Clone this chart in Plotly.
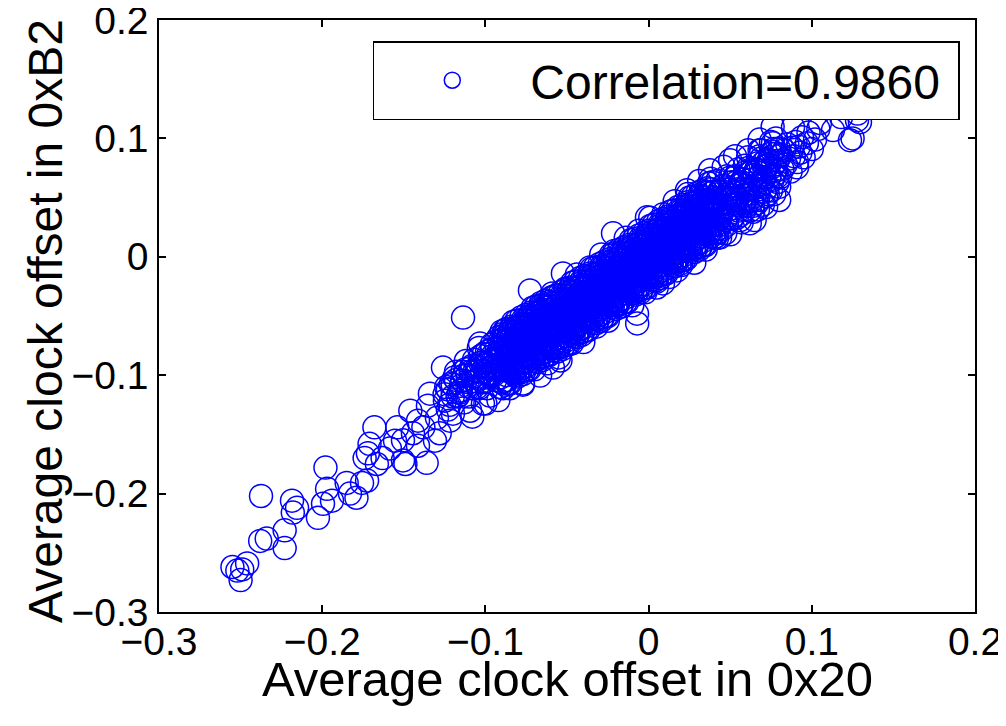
import numpy as np
import plotly.graph_objects as go

# ---- data (values in units of 0.001) ----
# lower-left tail of the cloud
tail_x = [-252, -250, -246, -249, -255, -237.5, -234, -238, -223, -223, -218.5, -215.4, -218,
          -202.6, -199.5, -198, -197, -194, -185, -183, -179, -175.6, -172.5, -174, -171, -172,
          -168, -166.5, -163, -158.5, -154, -150.5, -150.5, -146, -144.4, -136, -134, -138, -128,
          -126, -129.7, -119.9, -101.5, -149]
tail_y = [-265, -273, -259, -264, -262, -202, -238, -240, -246, -231, -206, -212, -216,
          -220.5, -208.6, -178, -196, -206, -191, -200, -203.5, -191, -189, -170, -158, -166,
          -144, -175, -170, -162, -144, -172, -155, -130, -149, -174, -115.6, -144, -149,
          -93.6, -136, -132.5, -124, -175]

# start of the dense band
lead_x = [-155.4, -141.3, -135.2, -124.8, -121.7, -116.8, -114.3, -109.4, -130.9, -141.3,
          -106.4, -97.2, -88, -66.5]
lead_y = [-155.3, -138.4, -125.7, -121.5, -138.4, -117.3, -104.6, -130, -155.3, -159.6,
          -96.1, -117.3, -104.6, -100.3]

g1_x = [-125, -123, -121, -120, -118, -117, -115, -114, -113, -111, -110, -109, -108, -107, -106,
        -105, -104, -103, -102, -101, -100, -100, -99, -98, -97, -96, -95, -94, -93, -92]
g1_y = [-116, -129, -107, -118, -97, -118, -109, -97, -123, -100, -106, -94, -111, -87, -105,
        -97, -111, -90, -97, -82, -102, -90, -111, -82, -94, -84, -100, -72, -93, -85]
g1b_x = [-124, -122, -119, -116, -112, -110, -108, -105, -103, -101, -99, -97, -96, -95, -94,
         -93, -92, -92]
g1b_y = [-110, -125, -102, -115, -95, -118, -92, -110, -84, -106, -80, -101, -78, -92, -104,
         -77, -96, -68]
g1c_x = [-123, -120, -118, -115, -113, -111, -109, -107, -105, -104, -102, -100, -98, -97, -95, -93]
g1c_y = [-112, -108, -104, -113, -100, -109, -97, -101, -93, -103, -89, -97, -88, -99, -86, -95]

# dense core: six readings per x position
core_x = [-91, -90, -89, -88, -87, -86, -85, -84, -83, -82, -81, -80, -79, -78, -77, -76,
          -75, -74, -73, -72, -71, -70, -69, -68, -67, -66, -65, -64, -63, -62, -61, -60,
          -59, -58, -57, -56, -55, -54, -53, -52, -51, -50, -49, -48, -47, -46, -45, -44,
          -43, -42, -41, -40, -39, -38, -37, -36, -35, -34, -33, -32, -31, -30, -29, -28,
          -27, -26, -25, -24, -23, -22, -21, -20, -19, -18, -17, -16, -15, -14, -13, -12,
          -11, -10, -9, -8, -7, -6, -5, -4, -3, -2, -1, 0, 1, 2, 3, 4, 5, 6, 7, 8, 9, 10,
          11, 12, 13, 14, 15, 16, 17, 18, 19, 20, 21, 22, 23, 24, 25, 26, 27, 28, 29, 30,
          31, 32, 33, 34, 35, 36, 37, 38, 39, 40]
core_ya = [-102, -93, -81, -87, -75, -91, -81, -63, -97, -69, -90, -70, -90, -81, -69, -75,
           -63, -79, -69, -51, -85, -57, -78, -58, -78, -69, -57, -63, -51, -67, -57, -39,
           -76, -48, -69, -49, -69, -60, -48, -54, -42, -58, -48, -30, -64, -36, -57, -37,
           -57, -48, -36, -42, -30, -46, -36, -18, -52, -24, -45, -25, -45, -36, -24, -30,
           -18, -34, -24, -6, -40, -12, -33, -13, -33, -24, -12, -18, -6, -22, -12, 6,
           -28, 0, -21, -1, -21, -12, 0, -6, 6, -10, 0, 18, -16, 12, -9, 11, -9, 0, 12, 6, 18, 2,
           12, 30, -4, 24, 3, 23, 3, 12, 24, 18, 30, 14, 24, 42, 8, 36, 15, 35, 15, 24,
           36, 30, 42, 26, 36, 54, 20, 48, 27, 47]
core_yb = [-86, -79, -95, -72, -100, -79, -95, -85, -74, -80, -63, -82, -74, -67, -83, -60,
           -88, -67, -83, -73, -62, -68, -51, -70, -62, -55, -71, -48, -76, -55, -71, -61,
           -53, -59, -42, -61, -53, -46, -62, -39, -67, -46, -62, -52, -41, -47, -30, -49,
           -41, -34, -50, -27, -55, -34, -50, -40, -29, -35, -18, -37, -29, -22, -38, -15,
           -43, -22, -38, -28, -17, -23, -6, -25, -17, -10, -26, -3, -31, -10, -26, -16,
           -5, -11, 6, -13, -5, 2, -14, 9, -19, 2, -14, -4, 7, 1, 18, -1, 7, 14, -2, 21, -7, 14,
           -2, 8, 19, 13, 30, 11, 19, 26, 10, 33, 5, 26, 10, 20, 31, 25, 42, 23, 31, 38,
           22, 45, 17, 38, 22, 32, 43, 37, 54, 35]
core_yc = [-77, -106, -69, -96, -84, -69, -75, -91, -77, -86, -74, -97, -65, -94, -57, -84,
           -72, -57, -63, -79, -65, -74, -62, -85, -53, -82, -45, -72, -60, -45, -51, -67,
           -56, -65, -53, -76, -44, -73, -36, -63, -51, -36, -42, -58, -44, -53, -41, -64,
           -32, -61, -24, -51, -39, -24, -30, -46, -32, -41, -29, -52, -20, -49, -12, -39,
           -27, -12, -18, -34, -20, -29, -17, -40, -8, -37, 0, -27, -15, 0, -6, -22,
           -8, -17, -5, -28, 4, -25, 12, -15, -3, 12, 6, -10, 4, -5, 7, -16, 16, -13, 24, -3, 9, 24,
           18, 2, 16, 7, 19, -4, 28, -1, 36, 9, 21, 36, 30, 14, 28, 19, 31, 8, 40, 11,
           48, 21, 33, 48, 42, 26, 40, 31, 43, 20]
core_yd = [-110, -63, -95, -72, -104, -67, -107, -59, -87, -60, -94, -73, -98, -51, -83, -60,
           -92, -55, -95, -47, -75, -48, -82, -61, -86, -39, -71, -48, -80, -43, -83, -35,
           -66, -39, -73, -52, -77, -30, -62, -39, -71, -34, -74, -26, -54, -27, -61, -40,
           -65, -18, -50, -27, -59, -22, -62, -14, -42, -15, -49, -28, -53, -6, -38, -15,
           -47, -10, -50, -2, -30, -3, -37, -16, -41, 6, -26, -3, -35, 2, -38, 10,
           -18, 9, -25, -4, -29, 18, -14, 9, -23, 14, -26, 22, -6, 21, -13, 8, -17, 30, -2, 21, -11, 26,
           -14, 34, 6, 33, -1, 20, -5, 42, 10, 33, 1, 38, -2, 46, 18, 45, 11, 32, 7, 54,
           22, 45, 13, 50, 10, 58, 30, 57, 23, 44]
core_ye = [-71, -106, -65, -108, -76, -94, -62, -96, -55, -100, -67, -101, -59, -94, -53, -96,
           -64, -82, -50, -84, -43, -88, -55, -89, -47, -82, -41, -84, -52, -70, -38, -72,
           -34, -79, -46, -80, -38, -73, -32, -75, -43, -61, -29, -63, -22, -67, -34, -68,
           -26, -61, -20, -63, -31, -49, -17, -51, -10, -55, -22, -56, -14, -49, -8, -51,
           -19, -37, -5, -39, 2, -43, -10, -44, -2, -37, 4, -39, -7, -25, 7, -27,
           14, -31, 2, -32, 10, -25, 16, -27, 5, -13, 19, -15, 26, -19, 14, -20, 22, -13, 28, -15, 17, -1,
           31, -3, 38, -7, 26, -8, 34, -1, 40, -3, 29, 11, 43, 9, 50, 5, 38, 4, 46, 11,
           52, 9, 41, 23, 55, 21, 62, 17, 50, 16]
core_yf = [-93, -77, -111, -66, -61, -107, -84, -69, -98, -73, -54, -62, -81, -65, -99, -54,
           -49, -95, -72, -57, -86, -61, -42, -50, -69, -53, -87, -42, -37, -83, -60, -45,
           -77, -52, -33, -41, -60, -44, -78, -33, -28, -74, -51, -36, -65, -40, -21, -29,
           -48, -32, -66, -21, -16, -62, -39, -24, -53, -28, -9, -17, -36, -20, -54, -9,
           -4, -50, -27, -12, -41, -16, 3, -5, -24, -8, -42, 3, 8, -38, -15, 0,
           -29, -4, 15, 7, -12, 4, -30, 15, 20, -26, -3, 12, -17, 8, 27, 19, 0, 16, -18, 27, 32, -14,
           9, 24, -5, 20, 39, 31, 12, 28, -6, 39, 44, -2, 21, 36, 7, 32, 51, 43, 24, 40,
           6, 51, 56, 10, 33, 48, 19, 44, 63, 55]

# upper part of the band: three readings per x position
up_x = [41, 42, 43, 44, 45, 46, 47, 48, 49, 50, 51, 52, 53, 54, 55, 56, 57, 58, 59, 60,
        61, 62, 63, 64, 65, 66, 67, 68, 69, 70, 71, 72, 73, 74, 75, 76, 77, 78, 79, 80]
up_ya = [27, 49, 24, 44, 59, 41, 31, 53, 35, 57, 32, 52, 67, 49, 39, 61, 43, 65, 40, 60,
         75, 57, 47, 69, 51, 73, 48, 68, 83, 65, 55, 77, 59, 81, 56, 76, 91, 73, 63, 85]
up_yb = [45, 36, 55, 33, 37, 55, 49, 27, 53, 44, 63, 41, 45, 63, 57, 35, 61, 52, 71, 49,
         53, 71, 65, 43, 69, 60, 79, 57, 61, 79, 73, 51, 77, 68, 87, 65, 69, 87, 81, 59]
up_yc = [17, 64, 32, 55, 23, 60, 20, 68, 40, 67, 33, 54, 68, 33, 74, 31, 63, 45, 77, 43,
         84, 39, 72, 38, 58, 74, 40, 85, 90, 44, 67, 82, 53, 78, 97, 89, 53, 100, 68, 91]

# circles along the upper and lower rims of the band
rim_hi_x = [-112, -104, -96, -88, -81, -74, -66, -59, -51, -44, -36, -29, -21, -14, -6, 1, 9,
            16, 24, 31, 38, 46, 53, 61, 68, 76]
rim_hi_y = [-88, -77, -74, -62, -61, -51, -41, -31, -27, -15, -9, 2, 5, 16, 22, 33, 36, 47, 53,
            64, 66, 76, 85, 90, 99, 110]
rim_lo_x = [-108, -100, -92, -85, -77, -70, -62, -55, -47, -40, -32, -25, -17, -10, -2, 5, 13,
            20, 28, 35, 42, 50, 57, 65, 72, 80]
rim_lo_y = [-135, -124, -121, -111, -108, -95, -90, -85, -73, -72, -59, -54, -42, -41, -30, -21,
            -17, -7, -5, 6, 16, 19, 29, 31, 42, 48]

# sparse upper-right end
end_x = [81, 82, 83, 84, 85, 86, 87, 88, 89, 90, 91, 92, 93, 94, 95, 97, 98, 100, 102, 104]
end_y = [86, 74, 90, 78, 95, 83, 72, 92, 85, 97, 80, 93, 88, 101, 84, 96, 105, 91, 99, 108]

# isolated circles around the band edges
edge_x = [-113.7, -103.3, -77, -58.6, -54, -7, -72.7, -52.5, -21.8, -1, 5, 17.4, 43.8, 123.4,
          129.5, 127.7, 125, 113, 105, 88.5, 91, 76.2, 68, 80.5, 66.4, 62, 50, 37.6, 8.8,
          23.5, 41.9, -7.1, 118, 128]
edge_y = [-51.3, -73.3, -107, -93.6, -87.6, -56.3, -28.4, -14, 19.8, 33.3, -25.9, -11.5, 16.4,
          98.5, 113.7, 115.4, 100, 107, 113, 109.5, 75.6, 96, 90, 67.2, 45.2, 28.3, 81.6, 73.1,
          -22.5, 56.2, 19.8, -48, 118, 121]

tick_vals = [-0.3, -0.2, -0.1, 0, 0.1, 0.2]
tick_text = ["\u22120.3", "\u22120.2", "\u22120.1", "0", "0.1", "0.2"]
legend_label = "Correlation=0.9860"
x_title = "Average clock offset in 0x20"
y_title = "Average clock offset in 0xB2"

# ---- assemble ----
xs = (tail_x + lead_x + g1_x + g1b_x + g1c_x + core_x * 6 + up_x * 3
      + rim_hi_x + rim_lo_x + end_x + edge_x)
ys = (tail_y + lead_y + g1_y + g1b_y + g1c_y + core_ya + core_yb + core_yc + core_yd + core_ye
      + core_yf + up_ya + up_yb + up_yc + rim_hi_y + rim_lo_y + end_y + edge_y)
xs = np.array(xs, dtype=float) / 1000.0
ys = np.array(ys, dtype=float) / 1000.0

FONT = "Liberation Sans, Arial, Helvetica, sans-serif"

fig = go.Figure()
fig.add_trace(go.Scatter(
    x=xs, y=ys, mode="markers", name=legend_label + "\u00a0", showlegend=True,
    marker=dict(symbol="circle-open", size=23, color="#0000ff",
                line=dict(width=1.5, color="#0000ff")),
))

axis_common = dict(
    range=[-0.3, 0.2], tickvals=tick_vals, ticktext=tick_text,
    ticks="inside", ticklen=7, tickwidth=1.5, tickcolor="black",
    showline=True, linecolor="black", linewidth=1.5, mirror="ticks",
    showgrid=False, zeroline=False, automargin=False, ticklabeloverflow="allow",
    tickfont=dict(size=39, color="black", family=FONT),
)

# the page body adds an 8 px offset, so the figure is 990x710 with matching margins
fig.update_layout(
    width=990, height=710,
    margin=dict(l=151, r=23, t=12, b=106),
    paper_bgcolor="white", plot_bgcolor="white",
    font=dict(family=FONT, color="black"),
    xaxis=dict(**axis_common, ticklabelstandoff=-6),
    yaxis=dict(**axis_common, ticklabelstandoff=1),
    legend=dict(x=0.262, y=0.9645, xanchor="left", yanchor="top",
                bgcolor="white", bordercolor="black", borderwidth=1.5,
                font=dict(size=48, color="black", family=FONT),
                itemwidth=146),
    showlegend=True,
    annotations=[
        dict(text=x_title, xref="paper", yref="paper", x=0.5, y=-0.1125,
             xanchor="center", yanchor="middle", showarrow=False,
             font=dict(size=49, color="black", family=FONT)),
        dict(text=y_title, xref="paper", yref="paper", x=-0.1385, y=0.4916,
             xanchor="center", yanchor="middle", showarrow=False, textangle=-90,
             font=dict(size=48, color="black", family=FONT)),
    ],
)

fig.write_html("out.html")
